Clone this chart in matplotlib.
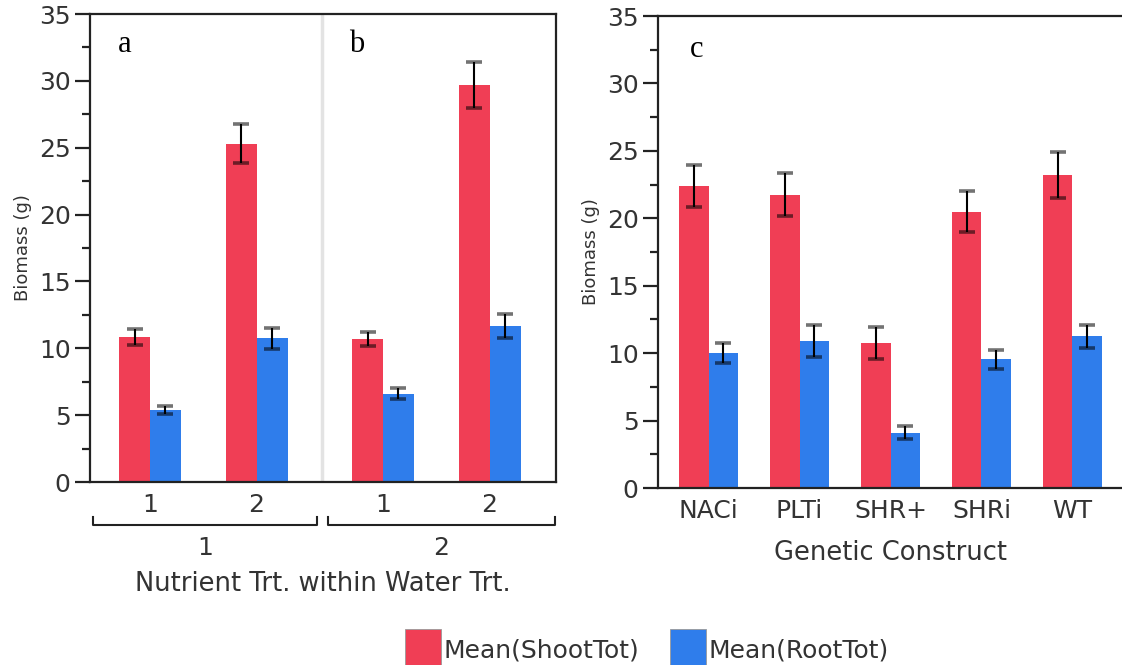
import matplotlib
matplotlib.use("Agg")
import matplotlib.pyplot as plt
from matplotlib.patches import Patch
from matplotlib.lines import Line2D
import numpy as np

# ---------------- data ----------------
water_trt = ["1", "2"]
nutrient_trt = ["1", "2"]
shoot_left = [10.85, 25.3, 10.7, 29.7]
shoot_left_err = [0.6, 1.45, 0.5, 1.73]
root_left = [5.4, 10.75, 6.6, 11.65]
root_left_err = [0.3, 0.8, 0.43, 0.9]

constructs = ["NACi", "PLTi", "SHR+", "SHRi", "WT"]
shoot_right = [22.4, 21.75, 10.75, 20.5, 23.2]
shoot_right_err = [1.55, 1.6, 1.2, 1.5, 1.7]
root_right = [10.0, 10.9, 4.1, 9.55, 11.25]
root_right_err = [0.75, 1.2, 0.5, 0.72, 0.85]

series_labels = ["Mean(ShootTot)", "Mean(RootTot)"]

# ---------------- style ----------------
RED = "#F03E55"
BLUE = "#2F7DEB"
TXT = "#333333"
SPINE = "#222222"
TICK_FS = 18
plt.rcParams["font.family"] = ["DejaVu Sans"]

W, H = 1122, 665
fig = plt.figure(figsize=(W / 100, H / 100), dpi=100)

def px_axes(x0, y0, x1, y1):
    return fig.add_axes([x0 / W, 1 - y1 / H, (x1 - x0) / W, (y1 - y0) / H])

axL = px_axes(90, 14, 556, 482)
axR = px_axes(658, 16, 1122, 488)

def style_y(ax):
    ax.set_ylim(0, 35)
    ax.set_yticks(np.arange(0, 36, 5))
    ax.set_yticks(np.arange(2.5, 35, 5), minor=True)
    ax.tick_params(axis="y", which="major", length=11, width=1.6, color=SPINE,
                   labelsize=TICK_FS, labelcolor=TXT, pad=3)
    ax.tick_params(axis="y", which="minor", length=6, width=1.6, color=SPINE)
    ax.tick_params(axis="x", length=0, labelsize=TICK_FS, labelcolor=TXT, pad=8)
    ax.set_ylabel("Biomass (g)", fontsize=13, color=TXT, labelpad=5)
    for s in ax.spines.values():
        s.set_color(SPINE)
        s.set_linewidth(1.6)

def draw_bars(ax, xs, vals, errs, color, width):
    ax.bar(xs, vals, width=width, color=color, edgecolor="none", zorder=2)
    _, caps, bars = ax.errorbar(xs, vals, yerr=errs, fmt="none", ecolor="black",
                                elinewidth=1.5, capsize=5.5, capthick=2.6, zorder=3)
    for c in caps:
        c.set_alpha(0.55)

# ---------------- left panel ----------------
style_y(axL)
axL.set_xlim(0, 4)
bwL = 0.266
offsets = [0.515, 1.43]
xL = np.array([g * 2.0 + offsets[n] for g in range(len(water_trt)) for n in range(len(nutrient_trt))])
draw_bars(axL, xL - bwL / 2, shoot_left, shoot_left_err, RED, bwL)
draw_bars(axL, xL + bwL / 2, root_left, root_left_err, BLUE, bwL)
axL.axvline(1.99, color="#E3E3E3", lw=2.5, zorder=1)
axL.set_xticks(xL)
axL.set_xticklabels([n for g in water_trt for n in nutrient_trt])

# group brackets and labels
trans = axL.get_xaxis_transform()
for g, lab in enumerate(water_trt):
    x0 = g * 2.0 + (0.03 if g == 0 else 0.04)
    x1 = g * 2.0 + (1.95 if g == 0 else 1.99)
    yb = -0.092
    axL.add_line(Line2D([x0, x0, x1, x1], [yb + 0.018, yb, yb, yb + 0.018],
                        transform=trans, color=SPINE, lw=1.5, clip_on=False))
    axL.text((x0 + x1) / 2, -0.142, lab, transform=trans, ha="center", va="center",
             fontsize=TICK_FS, color=TXT)
axL.text(0.5, -0.217, "Nutrient Trt. within Water Trt.", transform=axL.transAxes,
         ha="center", va="center", fontsize=18.5, color=TXT)

axL.text(0.075, 0.935, "a", transform=axL.transAxes, fontsize=22,
         family="Liberation Serif", ha="center", va="center", color="black")
axL.text(0.573, 0.935, "b", transform=axL.transAxes, fontsize=22,
         family="Liberation Serif", ha="center", va="center", color="black")

# ---------------- right panel ----------------
style_y(axR)
axR.spines["right"].set_visible(False)
xR = np.arange(len(constructs))
bwR = 0.324
draw_bars(axR, xR - bwR / 2, shoot_right, shoot_right_err, RED, bwR)
draw_bars(axR, xR + bwR / 2, root_right, root_right_err, BLUE, bwR)
axR.set_xlim(-0.555, 4.544)
axR.set_xticks(xR)
axR.set_xticklabels(constructs)
axR.set_xlabel("Genetic Construct", fontsize=18.5, color=TXT, labelpad=12)
axR.text(0.083, 0.93, "c", transform=axR.transAxes, fontsize=22,
         family="Liberation Serif", ha="center", va="center", color="black")

# ---------------- legend ----------------
handles = [Patch(facecolor=RED, edgecolor="#999999", lw=0.6),
           Patch(facecolor=BLUE, edgecolor="#999999", lw=0.6)]
fig.legend(handles, series_labels, loc="center left",
           bbox_to_anchor=(392 / W, 1 - 650 / H), ncol=2, frameon=False,
           fontsize=18, handlelength=1.45, handleheight=2.15,
           handletextpad=0.12, columnspacing=1.2, borderpad=0,
           labelcolor=TXT)

fig.savefig("out.png", dpi=100)
